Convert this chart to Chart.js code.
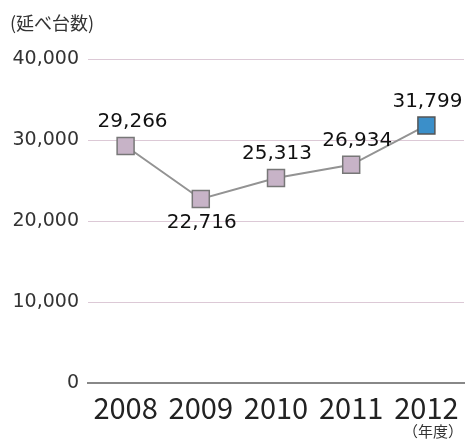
<!DOCTYPE html>
<html>
<head>
<meta charset="utf-8">
<script src="https://cdn.jsdelivr.net/npm/chart.js@4"></script>
<style>
  html, body { margin: 0; padding: 0; background: #fff; }
  #wrap { width: 468px; height: 441px; position: relative; }
</style>
</head>
<body>
<div id="wrap"><canvas id="chart"></canvas></div>
<script>
// chart data
const years = ['2008', '2009', '2010', '2011', '2012'];
const units = [29266, 22716, 25313, 26934, 31799];
const yTicks = [0, 10000, 20000, 30000, 40000];
const labelSide = ['above', 'below', 'above', 'above', 'above'];

const jpFont = '"Noto Sans CJK JP", "Noto Sans", sans-serif';
const numFont = '"DejaVu Sans", sans-serif';
const fmt = v => v.toLocaleString('en-US');

// value labels next to each point + unit captions
const extras = {
  id: 'extras',
  afterDatasetsDraw(chart) {
    const ctx = chart.ctx;
    const meta = chart.getDatasetMeta(0);
    ctx.save();
    ctx.fillStyle = '#111';
    ctx.font = '20px ' + numFont;
    ctx.textAlign = 'center';
    ctx.textBaseline = 'middle';
    meta.data.forEach((pt, i) => {
      const dy = labelSide[i] === 'below' ? 24 : -24;
      const dx = i === 0 ? 7 : (i === 3 ? 6 : 1);
      ctx.fillText(fmt(units[i]), pt.x + dx, pt.y + dy);
    });
    ctx.fillStyle = '#333';
    ctx.font = '18px ' + jpFont;
    ctx.textAlign = 'left';
    ctx.fillText('(延べ台数)', 10, 23);
    ctx.font = '15px ' + jpFont;
    ctx.textAlign = 'right';
    ctx.fillText('（年度）', 463, 431);
    ctx.restore();
  }
};

new Chart(document.getElementById('chart'), {
  type: 'line',
  data: {
    labels: years,
    datasets: [{
      data: units,
      borderColor: '#939393',
      borderWidth: 2,
      tension: 0,
      pointStyle: 'rect',
      pointRadius: 12,
      pointHoverRadius: 12,
      pointBorderWidth: 1.5,
      pointBorderColor: ['#777', '#777', '#777', '#777', '#555'],
      pointBackgroundColor: ['#c7b3c7', '#c7b3c7', '#c7b3c7', '#c7b3c7', '#3b8fc9']
    }]
  },
  options: {
    responsive: true,
    maintainAspectRatio: false,
    animation: false,
    layout: {
      autoPadding: false,
      padding: { top: 59, right: 4, left: 0, bottom: 0 }
    },
    scales: {
      x: {
        offset: true,
        grid: { display: false },
        border: { display: true, color: '#888', width: 2 },
        ticks: {
          color: '#222',
          font: { family: jpFont, size: 29 },
          padding: 0,
          maxRotation: 0
        },
        afterFit: s => {
          s.height = 58;
          s.paddingLeft = 0;
          s.paddingRight = 0;
        }
      },
      y: {
        min: 0,
        max: 40000,
        afterBuildTicks: s => { s.ticks = yTicks.map(v => ({ value: v })); },
        grid: {
          drawTicks: false,
          color: c => c.tick.value === 0 ? 'rgba(0,0,0,0)' : '#dcc9d6',
          lineWidth: 1
        },
        border: { display: false },
        ticks: {
          color: '#333',
          font: { family: numFont, size: 19 },
          padding: 9,
          callback: v => fmt(v)
        },
        afterFit: s => { s.width = 88; }
      }
    },
    plugins: {
      legend: { display: false },
      tooltip: { enabled: false }
    }
  },
  plugins: [extras]
});
</script>
</body>
</html>
